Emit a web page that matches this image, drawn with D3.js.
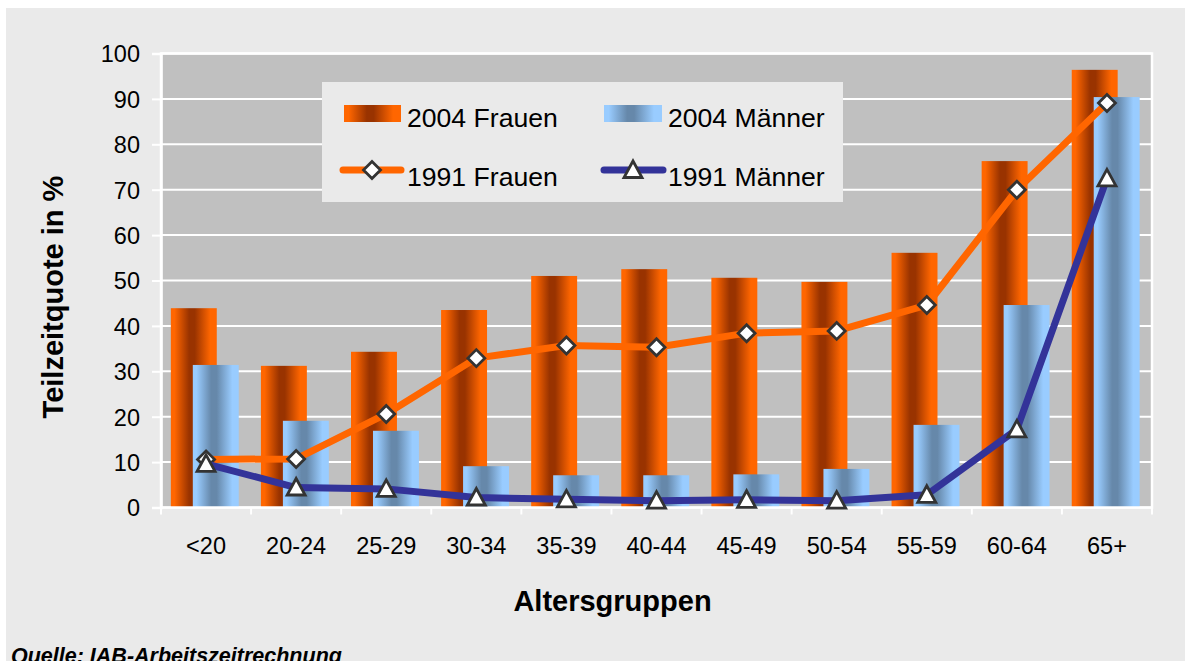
<!DOCTYPE html>
<html>
<head>
<meta charset="utf-8">
<script src="https://cdn.jsdelivr.net/npm/d3@7"></script>
<style>
  html, body { margin: 0; padding: 0; background: #ffffff; }
  svg { display: block; font-family: "Liberation Sans", Arial, sans-serif; }
</style>
</head>
<body>
<svg id="chart" width="1185" height="661"></svg>
<script>
// ---- Data ----
const categories = ["<20", "20-24", "25-29", "30-34", "35-39", "40-44", "45-49", "50-54", "55-59", "60-64", "65+"];
const frauen2004 = [43.9, 31.2, 34.3, 43.5, 51.0, 52.5, 50.6, 49.7, 56.1, 76.3, 96.4];
const maenner2004 = [31.4, 19.1, 16.9, 9.1, 7.1, 7.1, 7.3, 8.5, 18.2, 44.6, 90.4];
const frauen1991 = [10.6, 10.7, 20.6, 32.9, 35.7, 35.3, 38.4, 38.9, 44.6, 70.0, 89.1];
const maenner1991 = [9.6, 4.4, 4.1, 2.2, 1.8, 1.5, 1.7, 1.5, 2.8, 17.2, 72.5];
const yTicks = [0, 10, 20, 30, 40, 50, 60, 70, 80, 90, 100];
const seriesNames = ["2004 Frauen", "2004 Männer", "1991 Frauen", "1991 Männer"];
const yTitle = "Teilzeitquote in %";
const xTitle = "Altersgruppen";
const sourceText = "Quelle: IAB-Arbeitszeitrechnung";

// ---- Layout ----
const svg = d3.select("#chart");
const plot = { left: 161, right: 1152, top: 53.5, bottom: 507.5 };

svg.append("rect").attr("x", 6).attr("y", 8).attr("width", 1185).attr("height", 661).attr("fill", "#eaeaea");

const defs = svg.append("defs");
function grad(id, edge, dark) {
  const g = defs.append("linearGradient").attr("id", id)
    .attr("x1", "0%").attr("x2", "100%").attr("y1", "0%").attr("y2", "0%");
  [[0, edge], [0.08, edge], [0.40, dark], [0.52, dark], [0.86, edge], [1, edge]]
    .forEach(([o, c]) => g.append("stop").attr("offset", o).attr("stop-color", c));
}
grad("gOrange", "#ff6600", "#993300");
grad("gBlue", "#99ccff", "#6688aa");

const x = d3.scaleBand().domain(categories).range([plot.left, plot.right]).padding(0);
const y = d3.scaleLinear().domain([0, 100]).range([plot.bottom, plot.top]);
const bw = x.bandwidth();
const barW = bw * 0.51;
const offF = bw * 0.109;
const offM = offF + bw * 0.244;

// plot background
svg.append("rect").attr("x", plot.left).attr("y", plot.top)
  .attr("width", plot.right - plot.left).attr("height", plot.bottom - plot.top)
  .attr("fill", "#c0c0c0");

// gridlines
svg.append("g").selectAll("line").data(yTicks).join("line")
  .attr("x1", plot.left).attr("x2", plot.right)
  .attr("y1", d => y(d)).attr("y2", d => y(d))
  .attr("stroke", "#ffffff").attr("stroke-width", 2);

// bars
const barG = svg.append("g");
categories.forEach((c, i) => {
  barG.append("rect").attr("x", x(c) + offF).attr("y", y(frauen2004[i]))
    .attr("width", barW).attr("height", y(0) - y(frauen2004[i])).attr("fill", "url(#gOrange)");
  barG.append("rect").attr("x", x(c) + offM).attr("y", y(maenner2004[i]))
    .attr("width", barW).attr("height", y(0) - y(maenner2004[i])).attr("fill", "url(#gBlue)");
});

// plot border
svg.append("rect").attr("x", plot.left).attr("y", plot.top)
  .attr("width", plot.right - plot.left).attr("height", plot.bottom - plot.top)
  .attr("fill", "none").attr("stroke", "#ffffff").attr("stroke-width", 2.5);

// y axis
const yAxis = d3.axisLeft(y).tickValues(yTicks).tickSize(9).tickPadding(12);
const yg = svg.append("g").attr("transform", `translate(${plot.left},0)`).call(yAxis);
yg.select(".domain").attr("stroke", "#ffffff").attr("stroke-width", 2.5);
yg.selectAll(".tick line").attr("stroke", "#ffffff").attr("stroke-width", 2);
yg.selectAll(".tick text").attr("font-size", 23.5).attr("fill", "#000")
  .attr("font-family", "Liberation Sans, Arial, sans-serif").attr("dy", "0.36em");

// x axis
const xAxis = d3.axisBottom(x).tickSize(0).tickPadding(30);
const xg = svg.append("g").attr("transform", `translate(0,${plot.bottom})`).call(xAxis);
xg.select(".domain").remove();
xg.selectAll(".tick text").attr("font-size", 23.5).attr("fill", "#000")
  .attr("font-family", "Liberation Sans, Arial, sans-serif").attr("dy", "0.71em");
// x tick marks at category boundaries
const bounds = categories.map(c => x(c)).concat([plot.right]);
svg.append("g").selectAll("line").data(bounds).join("line")
  .attr("x1", d => d).attr("x2", d => d).attr("y1", plot.bottom).attr("y2", plot.bottom + 7)
  .attr("stroke", "#ffffff").attr("stroke-width", 2);

// lines
const cx = c => x(c) + bw / 2;
const lineGen = d3.line().x(d => cx(d.c)).y(d => y(d.v));
const fData = categories.map((c, i) => ({ c, v: frauen1991[i] }));
const mData = categories.map((c, i) => ({ c, v: maenner1991[i] }));

const diamond = "M0,-8.5L8.5,0L0,8.5L-8.5,0Z";
const triangle = "M0,-9L9,7.5L-9,7.5Z";

svg.append("path").datum(fData).attr("d", lineGen).attr("fill", "none")
  .attr("stroke", "#ff6600").attr("stroke-width", 7).attr("stroke-linejoin", "round");
svg.append("g").selectAll("path").data(fData).join("path")
  .attr("d", diamond).attr("transform", d => `translate(${cx(d.c)},${y(d.v)})`)
  .attr("fill", "#ffffff").attr("stroke", "#333333").attr("stroke-width", 2.8);

svg.append("path").datum(mData).attr("d", lineGen).attr("fill", "none")
  .attr("stroke", "#333399").attr("stroke-width", 7).attr("stroke-linejoin", "round");
svg.append("g").selectAll("path").data(mData).join("path")
  .attr("d", triangle).attr("transform", d => `translate(${cx(d.c)},${y(d.v)})`)
  .attr("fill", "#ffffff").attr("stroke", "#333333").attr("stroke-width", 2.8);

// legend
const lg = svg.append("g");
lg.append("rect").attr("x", 322).attr("y", 82).attr("width", 521).attr("height", 120).attr("fill", "#eaeaea");
lg.append("rect").attr("x", 344).attr("y", 105).attr("width", 57).attr("height", 17).attr("fill", "url(#gOrange)");
lg.append("rect").attr("x", 604).attr("y", 105).attr("width", 58).attr("height", 17).attr("fill", "url(#gBlue)");
lg.append("line").attr("x1", 343).attr("x2", 401).attr("y1", 170).attr("y2", 170)
  .attr("stroke", "#ff6600").attr("stroke-width", 7).attr("stroke-linecap", "round");
lg.append("path").attr("d", diamond).attr("transform", "translate(372,170)")
  .attr("fill", "#fff").attr("stroke", "#333").attr("stroke-width", 2.8);
lg.append("line").attr("x1", 604).attr("x2", 663).attr("y1", 170).attr("y2", 170)
  .attr("stroke", "#333399").attr("stroke-width", 7).attr("stroke-linecap", "round");
lg.append("path").attr("d", triangle).attr("transform", "translate(633,170)")
  .attr("fill", "#fff").attr("stroke", "#333").attr("stroke-width", 2.8);
const legPos = [[407, 127], [668, 127], [407, 186], [668, 186]];
seriesNames.forEach((n, i) => {
  lg.append("text").attr("x", legPos[i][0]).attr("y", legPos[i][1])
    .attr("font-size", 26.6).attr("fill", "#000").text(n);
});

// axis titles
svg.append("text").attr("transform", "translate(63,297) rotate(-90)")
  .attr("text-anchor", "middle").attr("font-size", 29).attr("font-weight", "bold")
  .attr("fill", "#000").text(yTitle);
svg.append("text").attr("x", 612.5).attr("y", 611)
  .attr("text-anchor", "middle").attr("font-size", 29).attr("font-weight", "bold")
  .attr("fill", "#000").text(xTitle);

// source
svg.append("text").attr("x", 11).attr("y", 662.5)
  .attr("font-size", 21.5).attr("font-weight", "bold").attr("font-style", "italic")
  .attr("fill", "#000").text(sourceText);
</script>
</body>
</html>
